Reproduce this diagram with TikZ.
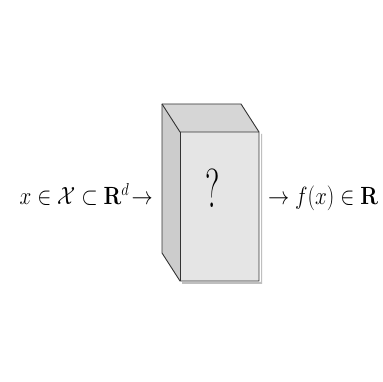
\documentclass[tikz,border=0pt]{standalone}
\usepackage{amsmath,amssymb,graphicx}
\begin{document}
\begin{tikzpicture}[x=1pt,y=-1pt,
  edge/.style={draw=black!80,line width=0.9pt,line join=round},
  lbl/.style={inner sep=0pt,font=\fontsize{23}{28}\selectfont}]
\useasboundingbox[fill=white] (0,0) rectangle (383,382);
% cube corners
\coordinate (F1) at (180,132);
\coordinate (F2) at (259,132);
\coordinate (F3) at (259,281);
\coordinate (F4) at (180,281);
\coordinate (B1) at (162,104);
\coordinate (B2) at (241,104);
\coordinate (B4) at (162,253);
% shadow
\fill[black!25] (182,282) -- (261,282) -- (261,134) -- (262,134) -- (262,284) -- (182,284) -- cycle;
% faces
\fill[black!16] (B1) -- (B2) -- (F2) -- (F1) -- cycle;
\fill[black!20] (B1) -- (F1) -- (F4) -- (B4) -- cycle;
\fill[black!10] (F1) rectangle (F3);
\draw[edge] (B1) -- (B2) -- (F2) -- (F3) -- (F4) -- (B4) -- cycle;
\draw[edge] (B1) -- (F1) -- (F2);
\draw[edge] (F1) -- (F4);
\node[inner sep=0pt,anchor=base] (q) at (212.5,207.5) {\scalebox{0.6}[1]{\fontsize{55}{60}\selectfont ?}};
\node[lbl,anchor=base east] (in) at (153,205) {\scalebox{0.85}[1]{$x\in\mathcal{X}\subset\mathbf{R}^d\!\rightarrow$}};
\node[lbl,anchor=base west] (out) at (268,205) {\scalebox{0.85}[1]{$\rightarrow f(x)\in\mathbf{R}$}};
\end{tikzpicture}
\end{document}
